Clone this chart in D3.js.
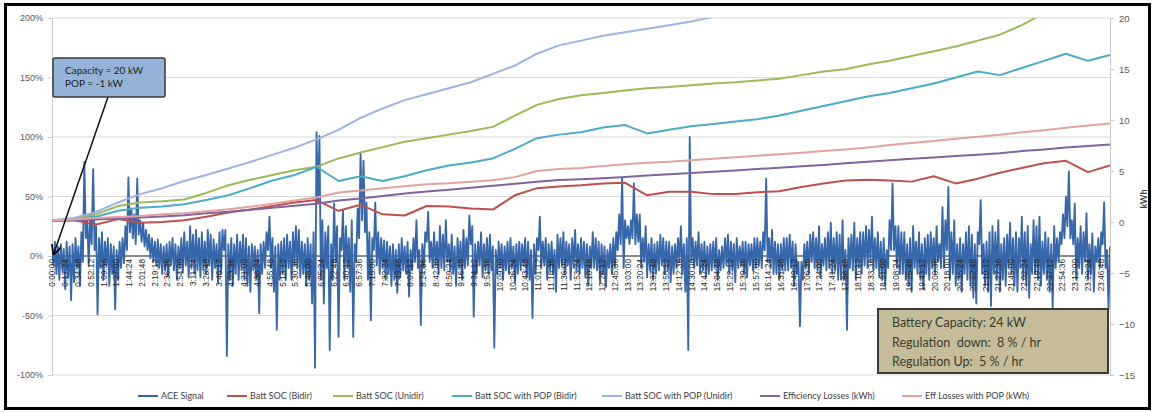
<!DOCTYPE html>
<html>
<head>
<meta charset="utf-8">
<script src="https://cdn.jsdelivr.net/npm/d3@7"></script>
<style>
  body { margin: 0; background: #fff; }
  svg { display: block; font-family: Lato, "Liberation Sans", sans-serif; }
</style>
</head>
<body>
<div id="chart"></div>
<script>
// ACE signal, one reading every 2 minutes (% of capacity)
const aceSignal = [
  5,-8,12,-15,8,-20,10,-12,6,-28,12,-18,8,-37,10,-22,15,-10,8,-25,
  20,-5,79,15,30,-8,35,10,73,5,25,-49,15,-10,20,-20,12,-8,15,-25,
  10,-15,8,-45,5,-20,12,-10,15,-6,25,5,66,20,40,15,35,10,65,18,
  30,12,28,8,22,5,18,-2,15,-5,12,-8,14,-10,10,-15,8,-12,10,-17,
  12,-8,15,-12,10,-20,8,-10,15,-14,20,-8,12,-18,25,-10,18,-15,22,-12,
  15,-18,20,-12,12,-15,22,-8,18,-20,14,-10,10,-22,20,-15,22,5,22,-84,
  10,-20,15,-25,10,-15,18,-20,12,-12,18,-20,15,-25,8,-30,10,-12,8,-20,
  5,-48,10,-15,12,-10,20,5,33,-10,15,-30,8,-62,10,-20,12,-15,15,-20,
  18,-10,12,-20,20,-8,25,-10,22,-18,12,-15,10,-25,15,-20,10,-40,20,-94,
  104,45,101,-20,30,-40,20,-10,25,-79,10,-20,44,-5,25,-68,15,5,38,-20,
  25,-10,15,-30,30,-68,10,-5,40,15,86,30,80,20,45,-20,20,-54,15,5,
  45,-8,20,-15,15,-10,13,-20,12,-15,8,-25,10,-20,5,-31,10,-18,15,-12,
  8,-15,12,-34,5,-12,15,-5,30,-10,5,-58,10,-10,20,12,37,-5,12,-10,
  20,-8,12,-15,25,-10,18,-12,30,-5,10,-12,18,-15,8,-25,15,-10,12,-20,
  22,-10,15,-8,34,10,25,-51,10,-15,12,-8,20,-18,10,-12,15,-15,18,-12,
  8,-77,5,-15,12,-10,10,-20,8,-12,12,-15,15,-10,8,-22,10,-15,12,-12,
  10,-8,15,-18,12,-20,5,-52,10,-15,15,5,33,-10,12,-8,15,-20,10,-12,
  12,-15,5,-30,18,-10,15,-8,20,-15,12,-8,10,-20,15,-10,22,-12,10,-15,
  15,-10,12,-18,10,-25,8,-10,20,-10,15,-12,12,-22,10,-15,8,-26,5,-10,
  10,-15,15,-10,20,5,35,10,66,-10,30,15,25,10,30,15,61,10,35,12,
  35,-10,15,-5,25,-18,10,-12,15,-20,10,-15,12,-12,18,-8,15,-15,12,-12,
  12,-22,8,-15,10,-10,15,-5,25,-15,10,-30,15,-79,100,-5,15,-10,12,-8,
  20,-15,10,-12,12,-18,8,-15,10,-12,12,-10,15,-20,5,-12,8,-10,15,-8,
  18,-15,12,-12,10,-22,15,-10,8,-8,12,-15,12,-18,10,-8,10,-12,15,-10,
  15,-8,12,-10,20,5,65,-5,15,-10,22,-15,12,-15,10,-20,10,-12,15,-12,
  15,-12,18,-10,12,-25,10,-15,-5,-59,-5,-20,10,-10,12,-15,18,-5,20,-10,
  15,-12,25,-18,10,-8,15,-12,20,-10,28,-15,15,-12,20,-20,18,-20,30,-20,
  5,-62,15,-10,18,-12,28,-20,15,-10,20,-15,20,-8,25,-10,22,-5,33,-12,
  15,-10,20,-18,12,-20,15,-25,5,-10,30,5,61,5,25,-10,25,-15,20,-15,
  20,-20,10,-25,15,-30,25,-10,12,-15,20,-20,10,-28,15,-15,18,-20,20,-10,
  15,-15,25,-5,10,-10,41,-10,30,5,58,-20,20,-15,30,-25,10,-20,15,-30,
  10,-15,20,-20,25,-25,18,-35,10,-40,20,10,47,-15,10,-25,12,-30,20,-42,
  25,-15,20,-20,30,-30,10,-20,15,-25,18,-10,28,-15,15,-25,20,-30,15,-10,
  33,-20,20,-25,25,-35,10,-15,30,-15,25,-20,33,-25,12,-15,20,-20,15,-30,
  10,-43,25,-10,15,-5,20,10,35,15,50,25,71,15,30,10,44,-20,15,-10,
  25,-15,20,-5,36,-20,10,-15,19,-30,8,-5,15,-10,20,10,45,-10,5,-45,
  8
];
const aceStepMinutes = 2;

// battery / loss series, one reading every half hour
const lineHours = d3.range(0, 24.01, 0.5);
const socBidir = [30,30,26.5,31,28,28.5,30,33,36.5,39,42,45,47,38,43,35,34,42,41.5,40,39,51,57,58.5,59.5,61,61.5,51,54,54,52,52,53.5,54.5,58,61,63.5,64,63.5,62.5,67,61,65,70,74,78,80,70.5,76];
const socUnidir = [30,31,35,42,45,46,47.5,53,59.5,64,68,72,75,82,87,91.5,96,99,102,105,108.5,118,127,132,135,137,139,141,142,143.5,145,146,147.5,149,152,155,157,161,164,168,172,176,181,186,194,204,null,null,null];
const socPopBidir = [30,30.5,33,38,40.5,41.5,43.5,47,51,57,63.5,68,75,63,67,63,67,72,76,78.5,82,90,99,102,104,108,110,103,106,109,111,113,115,118,122,126,130,134,137,141,145,150,155,152,158,164,170,164,169];
const socPopUnidir = [30,32,37,45,52,57,63,68,73.5,79,85,91,98,106,116,124,131,136,141,146,153,160,170,177,181,185,188,191,194,197,201,204,null,null,null,null,null,null,null,null,null,null,null,null,null,null,null,null,null];
const effLosses = [0.1,0.15,0.25,0.35,0.45,0.55,0.67,0.85,1.0,1.2,1.4,1.6,1.8,2.1,2.3,2.55,2.8,2.98,3.15,3.35,3.55,3.75,3.95,4.12,4.2,4.3,4.42,4.55,4.68,4.8,4.93,5.05,5.2,5.33,5.47,5.6,5.75,5.9,6.05,6.2,6.33,6.47,6.6,6.75,6.95,7.1,7.3,7.45,7.6];
const effLossesPop = [0.15,0.25,0.4,0.5,0.6,0.75,0.85,1.05,1.25,1.5,1.8,2.1,2.4,2.9,3.1,3.3,3.5,3.7,3.8,3.95,4.1,4.4,5.0,5.2,5.3,5.5,5.65,5.8,5.9,6.05,6.2,6.35,6.5,6.65,6.8,6.95,7.1,7.3,7.55,7.75,7.95,8.15,8.35,8.55,8.8,9.0,9.25,9.45,9.65];

// category labels, every 17:24
const timeLabels = ["0:00:00","0:17:24","0:34:48","0:52:12","1:09:36","1:27:00","1:44:24","2:01:48","2:19:12","2:36:36",
  "2:54:00","3:11:24","3:28:48","3:46:12","4:03:36","4:21:00","4:38:24","4:55:48","5:13:12","5:30:36",
  "5:48:00","6:05:24","6:22:48","6:40:12","6:57:36","7:15:00","7:32:24","7:49:48","8:07:12","8:24:36",
  "8:42:00","8:59:24","9:16:48","9:34:12","9:51:36","10:09:00","10:26:24","10:43:48","11:01:12","11:18:36",
  "11:36:00","11:53:24","12:10:48","12:28:12","12:45:36","13:03:00","13:20:24","13:37:48","13:55:12","14:12:36",
  "14:30:00","14:47:24","15:04:48","15:22:12","15:39:36","15:57:00","16:14:24","16:31:48","16:49:12","17:06:36",
  "17:24:00","17:41:24","17:58:48","18:16:12","18:33:36","18:51:00","19:08:24","19:25:48","19:43:12","20:00:36",
  "20:18:00","20:35:24","20:52:48","21:10:12","21:27:36","21:45:00","22:02:24","22:19:48","22:37:12","22:54:36",
  "23:12:00","23:29:24","23:46:48"];
const labelStepMinutes = 17.4;

const pctTicks = [-100, -50, 0, 50, 100, 150, 200];
const kwhTicks = [-15, -10, -5, 0, 5, 10, 15, 20];

const series = [
  { name: "Batt SOC (Bidir)", color: "#c0504d", values: socBidir, axis: "pct" },
  { name: "Batt SOC (Unidir)", color: "#9bbb59", values: socUnidir, axis: "pct" },
  { name: "Batt SOC with POP (Bidir)", color: "#4bacc6", values: socPopBidir, axis: "pct" },
  { name: "Batt SOC with POP (Unidir)", color: "#9fb2e2", values: socPopUnidir, axis: "pct" },
  { name: "Efficiency Losses (kWh)", color: "#8064a2", values: effLosses, axis: "kwh" },
  { name: "Eff Losses with POP (kWh)", color: "#e3a2a0", values: effLossesPop, axis: "kwh" }
];
const aceColor = "#3767ab";

const W = 1156, H = 412;
const plot = { left: 52, right: 1110, top: 18, bottom: 375 };

const svg = d3.select("#chart").append("svg")
  .attr("width", W)
  .attr("height", H);

const x = d3.scaleLinear().domain([0, 1440]).range([plot.left, plot.right]);
const yPct = d3.scaleLinear().domain([-100, 200]).range([plot.bottom, plot.top]);
const yKwh = d3.scaleLinear().domain([-15, 20]).range([plot.bottom, plot.top]);

const defs = svg.append("defs");
defs.append("clipPath").attr("id", "plotclip")
  .append("rect")
  .attr("x", plot.left).attr("y", plot.top)
  .attr("width", plot.right - plot.left).attr("height", plot.bottom - plot.top);

// gridlines
svg.append("g").selectAll("line")
  .data(pctTicks.filter(d => d !== 0))
  .enter().append("line")
  .attr("x1", plot.left).attr("x2", plot.right)
  .attr("y1", d => yPct(d)).attr("y2", d => yPct(d))
  .attr("stroke", "#d9d9d9").attr("stroke-width", 1.2);

// left axis
const left = svg.append("g")
  .attr("transform", "translate(" + plot.left + ",0)")
  .call(d3.axisLeft(yPct).tickValues(pctTicks).tickFormat(d => d + "%").tickSize(4).tickPadding(5).tickSizeOuter(0));
left.select(".domain").attr("stroke", "#c8c8c8");
left.selectAll(".tick line").attr("stroke", "#c8c8c8");
left.selectAll("text").attr("fill", "#595959").style("font-size", "9px");

// right axis
const right = svg.append("g")
  .attr("transform", "translate(" + plot.right + ",0)")
  .call(d3.axisRight(yKwh).tickValues(kwhTicks).tickSize(4).tickPadding(5).tickSizeOuter(0));
right.select(".domain").attr("stroke", "#c8c8c8");
right.selectAll(".tick line").attr("stroke", "#c8c8c8");
right.selectAll("text").attr("fill", "#595959").style("font-size", "9.5px");

svg.append("text")
  .attr("transform", "translate(1144,199) rotate(-90)")
  .attr("text-anchor", "middle")
  .attr("dy", "0.35em")
  .attr("fill", "#404040")
  .style("font-size", "9px")
  .style("font-weight", "bold")
  .text("kWh");

// category axis through 0%
svg.append("line")
  .attr("x1", plot.left).attr("x2", plot.right)
  .attr("y1", yPct(0)).attr("y2", yPct(0))
  .attr("stroke", "#8a8a8a").attr("stroke-width", 2);

// ACE signal
const ace = aceSignal.map((v, i) => ({ t: i * aceStepMinutes, v: v }));
svg.append("path")
  .datum(ace)
  .attr("clip-path", "url(#plotclip)")
  .attr("fill", "none")
  .attr("stroke", aceColor)
  .attr("stroke-width", 1.85)
  .attr("stroke-linejoin", "round")
  .attr("d", d3.line().x(d => x(d.t)).y(d => yPct(d.v)));

// time labels
const xAxis = svg.append("g")
  .attr("transform", "translate(0," + yPct(0) + ")")
  .call(d3.axisBottom(x)
    .tickValues(timeLabels.map((_, i) => i * labelStepMinutes))
    .tickFormat((d, i) => timeLabels[i])
    .tickSize(0));
xAxis.select(".domain").remove();
xAxis.selectAll("text")
  .attr("transform", "rotate(-90)")
  .attr("text-anchor", "end")
  .attr("x", -3)
  .attr("y", 0)
  .attr("dy", "0.35em")
  .attr("fill", "#262626")
  .style("font-size", "8.3px");

// battery and loss lines
series.forEach(s => {
  const yS = s.axis === "pct" ? yPct : yKwh;
  const pts = s.values.map((v, i) => ({ t: lineHours[i] * 60, v: v }));
  svg.append("path")
    .datum(pts)
    .attr("clip-path", "url(#plotclip)")
    .attr("fill", "none")
    .attr("stroke", s.color)
    .attr("stroke-width", 2)
    .attr("stroke-linejoin", "round")
    .attr("d", d3.line().defined(d => d.v != null).x(d => x(d.t)).y(d => yS(d.v)));
});

// legend
const legendItems = [{ name: "ACE Signal", color: aceColor }].concat(series);
const legendX = [138, 227, 333, 452, 602, 760, 902];
const legend = svg.append("g").selectAll("g")
  .data(legendItems)
  .enter().append("g")
  .attr("transform", (d, i) => "translate(" + legendX[i] + ",396)");
legend.append("line")
  .attr("x1", 0).attr("x2", 20)
  .attr("stroke", d => d.color).attr("stroke-width", 2);
legend.append("text")
  .attr("x", 23).attr("dy", "0.35em")
  .attr("fill", "#404040")
  .style("font-size", "9px")
  .text(d => d.name);

// callout with arrow
defs.append("marker")
  .attr("id", "arrow")
  .attr("viewBox", "0 0 10 10")
  .attr("refX", 8).attr("refY", 5)
  .attr("markerWidth", 7).attr("markerHeight", 7)
  .attr("orient", "auto")
  .append("path").attr("d", "M0,0 L10,5 L0,10").attr("fill", "none").attr("stroke", "#000").attr("stroke-width", 1.6);

svg.append("line")
  .attr("x1", 108).attr("y1", 97)
  .attr("x2", x(0) + 2).attr("y2", yPct(0) - 3)
  .attr("stroke", "#111").attr("stroke-width", 1.5)
  .attr("marker-end", "url(#arrow)");

svg.append("rect")
  .attr("x", 53).attr("y", 58).attr("width", 112).attr("height", 39)
  .attr("rx", 2)
  .attr("fill", "#95b3d7").attr("stroke", "#3a3a3a").attr("stroke-width", 1.5);
svg.append("text").attr("x", 65).attr("y", 74).attr("fill", "#222").style("font-size", "10px").text("Capacity = 20 kW");
svg.append("text").attr("x", 65).attr("y", 87).attr("fill", "#222").style("font-size", "10px").text("POP = -1 kW");

// parameter box
svg.append("rect")
  .attr("x", 878).attr("y", 309).attr("width", 230).attr("height", 64)
  .attr("fill", "#c4bd97").attr("stroke", "#3a3a3a").attr("stroke-width", 2);
const boxLines = ["Battery Capacity: 24 kW", "Regulation  down:  8 % / hr", "Regulation Up:  5 % / hr"];
svg.append("g").selectAll("text")
  .data(boxLines)
  .enter().append("text")
  .attr("x", 892)
  .attr("y", (d, i) => 327 + i * 19.5)
  .attr("fill", "#3b3b33")
  .style("font-size", "12.5px")
  .style("white-space", "pre")
  .text(d => d);

// outer frame
svg.append("rect")
  .attr("x", 5.5).attr("y", 4.5).attr("width", 1144).attr("height", 404)
  .attr("fill", "none").attr("stroke", "#000").attr("stroke-width", 3);
</script>
</body>
</html>
